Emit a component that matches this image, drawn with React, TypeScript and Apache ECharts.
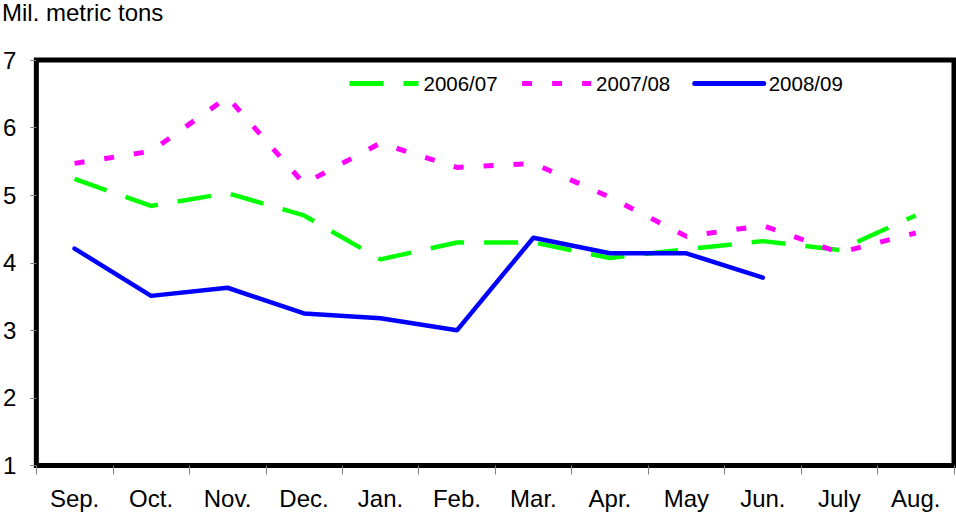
import React, { useEffect, useRef } from 'react';
import * as echarts from 'echarts';

const months = ['Sep.', 'Oct.', 'Nov.', 'Dec.', 'Jan.', 'Feb.', 'Mar.', 'Apr.', 'May', 'Jun.', 'July', 'Aug.'];
const s0607 = [5.24, 4.84, 5.03, 4.70, 4.05, 4.30, 4.30, 4.07, 4.20, 4.32, 4.19, 4.70];
const s0708 = [5.47, 5.65, 6.45, 5.17, 5.77, 5.41, 5.47, 4.97, 4.39, 4.55, 4.15, 4.44];
const s0809 = [4.21, 3.51, 3.63, 3.25, 3.18, 3.0, 4.37, 4.14, 4.14, 3.78, null, null];
const yTicks = { min: 1, max: 7, interval: 1 };

const FONT = '"Liberation Sans", Arial, sans-serif';

export default function App() {
  const ref = useRef<HTMLDivElement>(null);
  useEffect(() => {
    if (!ref.current) return;
    const chart = echarts.init(ref.current, undefined, { renderer: 'svg' });
    chart.setOption({
      animation: false,
      backgroundColor: '#ffffff',
      textStyle: { fontFamily: FONT },
      title: {
        text: 'Mil. metric tons',
        left: 2,
        top: 0,
        padding: 0,
        textStyle: { fontFamily: FONT, fontSize: 24, fontWeight: 'normal', color: '#000' },
      },
      legend: {
        left: 347,
        top: 73,
        padding: 0,
        itemWidth: 69,
        itemHeight: 14,
        itemGap: 22,
        itemStyle: { opacity: 0 },
        lineStyle: { width: 5 },
        textStyle: { fontFamily: FONT, fontSize: 20.5, color: '#000' },
        data: ['2006/07', '2007/08', '2008/09'],
      },
      grid: {
        left: 35,
        right: 2,
        top: 60,
        bottom: 46.5,
        show: true,
        borderColor: '#000',
        borderWidth: 5,
        backgroundColor: 'transparent',
      },
      xAxis: {
        type: 'category',
        data: months,
        boundaryGap: true,
        axisLine: { show: false },
        axisTick: { show: true, length: 9, lineStyle: { color: '#808080', width: 1 } },
        axisLabel: { fontFamily: FONT, fontSize: 24, color: '#000', margin: 21, interval: 0 },
        splitLine: { show: false },
      },
      yAxis: {
        type: 'value',
        min: yTicks.min,
        max: yTicks.max,
        interval: yTicks.interval,
        axisLine: { show: false },
        axisTick: { show: true, length: 6, lineStyle: { color: '#808080', width: 1 } },
        axisLabel: { fontFamily: FONT, fontSize: 24, color: '#000', margin: 20 },
        splitLine: { show: false },
      },
      series: [
        {
          name: '2006/07',
          type: 'line',
          data: s0607,
          symbol: 'none',
          itemStyle: { color: '#00ff00' },
          lineStyle: { color: '#00ff00', width: 4.5, type: [34, 20], cap: 'butt' },
          z: 2,
        },
        {
          name: '2007/08',
          type: 'line',
          data: s0708,
          symbol: 'none',
          itemStyle: { color: '#ff00ff' },
          lineStyle: { color: '#ff00ff', width: 5, type: [10, 20], cap: 'butt' },
          z: 3,
        },
        {
          name: '2008/09',
          type: 'line',
          data: s0809,
          symbol: 'none',
          connectNulls: false,
          itemStyle: { color: '#0000ff' },
          lineStyle: { color: '#0000ff', width: 4.5, type: 'solid', cap: 'round', join: 'round' },
          z: 4,
        },
      ],
    });
    return () => chart.dispose();
  }, []);
  return (
    <div
      ref={ref}
      style={{ position: 'absolute', left: 0, top: 0, width: 956, height: 512 }}
    />
  );
}
